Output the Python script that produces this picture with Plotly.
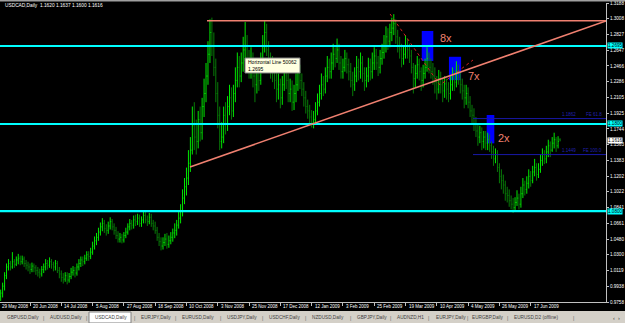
import plotly.graph_objects as go

# ---------------- data ----------------
date_labels = ["29 May 2008", "20 Jun 2008", "14 Jul 2008", "5 Aug 2008", "27 Aug 2008",
               "18 Sep 2008", "10 Oct 2008", "3 Nov 2008", "25 Nov 2008", "17 Dec 2008",
               "12 Jan 2009", "3 Feb 2009", "25 Feb 2009", "19 Mar 2009", "10 Apr 2009",
               "4 May 2009", "26 May 2009", "17 Jun 2009"]
date_label_bars = [0, 16, 32, 48, 64, 80, 96, 112, 128, 144, 160, 176, 192, 208, 224, 240, 256, 272]

price_ticks = [0.9758, 0.9938, 1.0119, 1.0300, 1.0480, 1.0661, 1.0841, 1.1022, 1.1202, 1.1383,
               1.1563, 1.1744, 1.1925, 1.2105, 1.2286, 1.2466, 1.2647, 1.2827, 1.3008, 1.3188]

opens = [
    0.979, 0.982, 0.986, 0.994, 1.006, 1.016, 1.020, 1.016, 1.022, 1.019,
    1.024, 1.026, 1.022, 1.025, 1.020, 1.018, 1.016, 1.013, 1.017, 1.015,
    1.012, 1.010, 1.008, 1.013, 1.016, 1.020, 1.018, 1.022, 1.019, 1.016,
    1.020, 1.012, 1.008, 1.004, 1.002, 1.006, 1.001, 1.005, 1.010, 1.012,
    1.009, 1.016, 1.020, 1.024, 1.022, 1.026, 1.030, 1.028, 1.033, 1.040,
    1.046, 1.050, 1.056, 1.062, 1.066, 1.060, 1.058, 1.063, 1.068, 1.062,
    1.058, 1.052, 1.048, 1.050, 1.047, 1.052, 1.056, 1.062, 1.066, 1.064,
    1.070, 1.068, 1.072, 1.066, 1.070, 1.075, 1.070, 1.068, 1.073, 1.066,
    1.063, 1.058, 1.050, 1.045, 1.040, 1.044, 1.048, 1.042, 1.046, 1.050,
    1.055, 1.058, 1.064, 1.072, 1.080, 1.095, 1.108, 1.118, 1.135, 1.150,
    1.178, 1.165, 1.160, 1.185, 1.170, 1.200, 1.215, 1.235, 1.260, 1.285,
    1.270, 1.245, 1.215, 1.190, 1.160, 1.165, 1.190, 1.180, 1.200, 1.210,
    1.195, 1.215, 1.230, 1.245, 1.235, 1.250, 1.265, 1.270, 1.255, 1.245,
    1.250, 1.235, 1.225, 1.240, 1.230, 1.255, 1.270, 1.285, 1.265, 1.250,
    1.245, 1.240, 1.230, 1.220, 1.225, 1.210, 1.225, 1.240, 1.230, 1.215,
    1.220, 1.205, 1.215, 1.225, 1.240, 1.230, 1.220, 1.210, 1.200, 1.195,
    1.188, 1.182, 1.185, 1.195, 1.205, 1.215, 1.225, 1.220, 1.235, 1.245,
    1.240, 1.250, 1.260, 1.255, 1.265, 1.250, 1.240, 1.245, 1.255, 1.248,
    1.240, 1.230, 1.225, 1.235, 1.245, 1.240, 1.250, 1.238, 1.230, 1.235,
    1.245, 1.240, 1.250, 1.258, 1.250, 1.245, 1.255, 1.262, 1.270, 1.280,
    1.275, 1.285, 1.290, 1.295, 1.280, 1.270, 1.265, 1.255, 1.260, 1.270,
    1.265, 1.258, 1.245, 1.232, 1.238, 1.248, 1.240, 1.230, 1.238, 1.245,
    1.255, 1.245, 1.240, 1.235, 1.228, 1.220, 1.232, 1.225, 1.218, 1.226,
    1.220, 1.215, 1.225, 1.235, 1.228, 1.240, 1.232, 1.225, 1.218, 1.210,
    1.215, 1.205, 1.195, 1.190, 1.180, 1.172, 1.165, 1.170, 1.160, 1.165,
    1.158, 1.162, 1.155, 1.148, 1.140, 1.145, 1.130, 1.120, 1.115, 1.110,
    1.100, 1.098, 1.092, 1.088, 1.084, 1.090, 1.095, 1.088, 1.100, 1.110,
    1.105, 1.112, 1.120, 1.115, 1.125, 1.130, 1.122, 1.128, 1.138, 1.145,
    1.140, 1.148, 1.155, 1.150, 1.158, 1.162, 1.155, 1.1620,
]
highs = [
    0.986, 0.990, 0.998, 1.010, 1.020, 1.025, 1.023, 1.033, 1.025, 1.028,
    1.031, 1.029, 1.029, 1.028, 1.024, 1.022, 1.020, 1.021, 1.020, 1.018,
    1.016, 1.014, 1.017, 1.020, 1.025, 1.024, 1.027, 1.025, 1.022, 1.024,
    1.023, 1.016, 1.012, 1.009, 1.010, 1.010, 1.009, 1.015, 1.017, 1.016,
    1.020, 1.025, 1.028, 1.028, 1.030, 1.034, 1.034, 1.038, 1.045, 1.051,
    1.055, 1.061, 1.067, 1.072, 1.070, 1.065, 1.068, 1.073, 1.071, 1.066,
    1.062, 1.057, 1.055, 1.054, 1.056, 1.061, 1.066, 1.071, 1.070, 1.075,
    1.076, 1.077, 1.076, 1.074, 1.080, 1.079, 1.075, 1.078, 1.077, 1.070,
    1.068, 1.062, 1.055, 1.050, 1.050, 1.054, 1.055, 1.052, 1.056, 1.060,
    1.066, 1.070, 1.079, 1.088, 1.105, 1.118, 1.130, 1.150, 1.165, 1.200,
    1.205, 1.185, 1.195, 1.200, 1.210, 1.232, 1.250, 1.275, 1.300, 1.302,
    1.285, 1.255, 1.228, 1.200, 1.182, 1.200, 1.205, 1.212, 1.225, 1.222,
    1.225, 1.245, 1.262, 1.258, 1.262, 1.280, 1.297, 1.282, 1.265, 1.268,
    1.262, 1.248, 1.252, 1.250, 1.262, 1.282, 1.298, 1.295, 1.275, 1.262,
    1.258, 1.252, 1.242, 1.238, 1.232, 1.235, 1.255, 1.250, 1.238, 1.232,
    1.230, 1.225, 1.238, 1.255, 1.248, 1.238, 1.228, 1.218, 1.208, 1.202,
    1.196, 1.195, 1.205, 1.215, 1.225, 1.238, 1.235, 1.245, 1.258, 1.255,
    1.262, 1.272, 1.268, 1.278, 1.272, 1.258, 1.255, 1.265, 1.262, 1.255,
    1.250, 1.240, 1.245, 1.258, 1.255, 1.262, 1.258, 1.245, 1.245, 1.256,
    1.255, 1.262, 1.268, 1.266, 1.258, 1.265, 1.272, 1.282, 1.292, 1.290,
    1.295, 1.302, 1.306, 1.300, 1.288, 1.280, 1.272, 1.270, 1.282, 1.278,
    1.272, 1.265, 1.250, 1.248, 1.258, 1.255, 1.245, 1.248, 1.255, 1.268,
    1.262, 1.255, 1.250, 1.245, 1.235, 1.242, 1.240, 1.232, 1.235, 1.232,
    1.228, 1.235, 1.245, 1.242, 1.252, 1.248, 1.240, 1.232, 1.225, 1.225,
    1.222, 1.212, 1.202, 1.198, 1.188, 1.180, 1.178, 1.176, 1.172, 1.172,
    1.170, 1.168, 1.160, 1.155, 1.152, 1.150, 1.135, 1.128, 1.122, 1.115,
    1.108, 1.105, 1.098, 1.095, 1.096, 1.104, 1.100, 1.108, 1.118, 1.115,
    1.120, 1.128, 1.126, 1.132, 1.140, 1.135, 1.135, 1.145, 1.152, 1.150,
    1.155, 1.162, 1.160, 1.165, 1.170, 1.165, 1.166, 1.1637,
]
lows = [
    0.976, 0.977, 0.981, 0.989, 1.002, 1.012, 1.012, 1.014, 1.015, 1.017,
    1.019, 1.018, 1.019, 1.016, 1.013, 1.011, 1.008, 1.010, 1.010, 1.007,
    1.005, 1.003, 1.005, 1.009, 1.012, 1.013, 1.015, 1.014, 1.011, 1.012,
    1.009, 1.003, 0.999, 0.997, 0.999, 0.996, 0.998, 1.002, 1.006, 1.004,
    1.006, 1.012, 1.016, 1.017, 1.019, 1.023, 1.023, 1.025, 1.030, 1.036,
    1.041, 1.046, 1.052, 1.057, 1.055, 1.052, 1.054, 1.059, 1.058, 1.053,
    1.048, 1.044, 1.044, 1.043, 1.044, 1.049, 1.053, 1.058, 1.059, 1.060,
    1.063, 1.064, 1.062, 1.062, 1.066, 1.066, 1.063, 1.065, 1.062, 1.058,
    1.054, 1.046, 1.040, 1.035, 1.036, 1.040, 1.037, 1.038, 1.042, 1.045,
    1.049, 1.052, 1.060, 1.066, 1.074, 1.088, 1.098, 1.110, 1.125, 1.145,
    1.150, 1.145, 1.152, 1.160, 1.162, 1.188, 1.205, 1.225, 1.250, 1.258,
    1.235, 1.205, 1.175, 1.150, 1.152, 1.158, 1.168, 1.172, 1.190, 1.185,
    1.188, 1.205, 1.222, 1.222, 1.228, 1.240, 1.252, 1.245, 1.232, 1.232,
    1.222, 1.205, 1.215, 1.218, 1.225, 1.245, 1.262, 1.258, 1.240, 1.232,
    1.228, 1.220, 1.205, 1.208, 1.198, 1.202, 1.218, 1.220, 1.205, 1.205,
    1.195, 1.196, 1.205, 1.218, 1.220, 1.212, 1.200, 1.192, 1.186, 1.180,
    1.176, 1.175, 1.180, 1.190, 1.200, 1.208, 1.212, 1.215, 1.228, 1.232,
    1.232, 1.242, 1.245, 1.250, 1.242, 1.232, 1.232, 1.240, 1.238, 1.230,
    1.222, 1.212, 1.218, 1.228, 1.230, 1.232, 1.228, 1.218, 1.222, 1.228,
    1.230, 1.232, 1.242, 1.242, 1.235, 1.238, 1.248, 1.255, 1.262, 1.265,
    1.268, 1.275, 1.282, 1.272, 1.262, 1.255, 1.245, 1.248, 1.255, 1.255,
    1.250, 1.238, 1.215, 1.222, 1.232, 1.230, 1.218, 1.222, 1.232, 1.240,
    1.238, 1.232, 1.225, 1.215, 1.208, 1.215, 1.215, 1.205, 1.210, 1.208,
    1.205, 1.208, 1.218, 1.218, 1.222, 1.225, 1.215, 1.208, 1.198, 1.202,
    1.198, 1.188, 1.180, 1.172, 1.165, 1.155, 1.158, 1.150, 1.152, 1.150,
    1.150, 1.148, 1.140, 1.132, 1.135, 1.125, 1.112, 1.105, 1.100, 1.092,
    1.090, 1.085, 1.082, 1.078, 1.080, 1.086, 1.082, 1.084, 1.095, 1.098,
    1.100, 1.106, 1.108, 1.112, 1.120, 1.115, 1.118, 1.124, 1.132, 1.134,
    1.135, 1.142, 1.142, 1.148, 1.152, 1.148, 1.152, 1.1600,
]
closes = [
    0.982, 0.986, 0.994, 1.006, 1.016, 1.020, 1.016, 1.022, 1.019, 1.024,
    1.026, 1.022, 1.025, 1.020, 1.018, 1.016, 1.013, 1.017, 1.015, 1.012,
    1.010, 1.008, 1.013, 1.016, 1.020, 1.018, 1.022, 1.019, 1.016, 1.020,
    1.012, 1.008, 1.004, 1.002, 1.006, 1.001, 1.005, 1.010, 1.012, 1.009,
    1.016, 1.020, 1.024, 1.022, 1.026, 1.030, 1.028, 1.033, 1.040, 1.046,
    1.050, 1.056, 1.062, 1.066, 1.060, 1.058, 1.063, 1.068, 1.062, 1.058,
    1.052, 1.048, 1.050, 1.047, 1.052, 1.056, 1.062, 1.066, 1.064, 1.070,
    1.068, 1.072, 1.066, 1.070, 1.075, 1.070, 1.068, 1.073, 1.066, 1.063,
    1.058, 1.050, 1.045, 1.040, 1.044, 1.048, 1.042, 1.046, 1.050, 1.055,
    1.058, 1.064, 1.072, 1.080, 1.095, 1.108, 1.118, 1.135, 1.150, 1.178,
    1.165, 1.160, 1.185, 1.170, 1.200, 1.215, 1.235, 1.260, 1.285, 1.270,
    1.245, 1.215, 1.190, 1.160, 1.165, 1.190, 1.180, 1.200, 1.210, 1.195,
    1.215, 1.230, 1.245, 1.235, 1.250, 1.265, 1.270, 1.255, 1.245, 1.250,
    1.235, 1.225, 1.240, 1.230, 1.255, 1.270, 1.285, 1.265, 1.250, 1.245,
    1.240, 1.230, 1.220, 1.225, 1.210, 1.225, 1.240, 1.230, 1.215, 1.220,
    1.205, 1.215, 1.225, 1.240, 1.230, 1.220, 1.210, 1.200, 1.195, 1.188,
    1.182, 1.185, 1.195, 1.205, 1.215, 1.225, 1.220, 1.235, 1.245, 1.240,
    1.250, 1.260, 1.255, 1.265, 1.250, 1.240, 1.245, 1.255, 1.248, 1.240,
    1.230, 1.225, 1.235, 1.245, 1.240, 1.250, 1.238, 1.230, 1.235, 1.245,
    1.240, 1.250, 1.258, 1.250, 1.245, 1.255, 1.262, 1.270, 1.280, 1.275,
    1.285, 1.290, 1.295, 1.280, 1.270, 1.265, 1.255, 1.260, 1.270, 1.265,
    1.258, 1.245, 1.232, 1.238, 1.248, 1.240, 1.230, 1.238, 1.245, 1.255,
    1.245, 1.240, 1.235, 1.228, 1.220, 1.232, 1.225, 1.218, 1.226, 1.220,
    1.215, 1.225, 1.235, 1.228, 1.240, 1.232, 1.225, 1.218, 1.210, 1.215,
    1.205, 1.195, 1.190, 1.180, 1.172, 1.165, 1.170, 1.160, 1.165, 1.158,
    1.162, 1.155, 1.148, 1.140, 1.145, 1.130, 1.120, 1.115, 1.110, 1.100,
    1.098, 1.092, 1.088, 1.084, 1.090, 1.095, 1.088, 1.100, 1.110, 1.105,
    1.112, 1.120, 1.115, 1.125, 1.130, 1.122, 1.128, 1.138, 1.145, 1.140,
    1.148, 1.155, 1.150, 1.158, 1.162, 1.155, 1.160, 1.1616,
]

h_lines = [1.2695, 1.1800, 1.0800]          # cyan horizontal lines
fe_levels = [1.1862, 1.1449]                # Fibonacci expansion levels
fe_names = ["FE 61.8", "FE 100.0"]
trend_pts = [(97.8, 1.1307), (310.5, 1.2982)]   # rising salmon trendline
top_line = [(106.5, 1.2985), (310.5, 1.2985)]   # flat salmon resistance
fib_path = [(200.1, 1.3062), (225.6, 1.2247), (242.5, 1.2534)]
boxes = [(216.3, 222.2, 1.2523, 1.2867), (230.2, 236.4, 1.2303, 1.2571), (249.5, 253.4, 1.1578, 1.1903)]
box_tags = [("8x", 228.5, 1.2787), ("7x", 243.0, 1.2351), ("2x", 258.5, 1.1640)]
last_price = 1.1616
tabs = ["GBPUSD,Daily", "AUDUSD,Daily", "USDCAD,Daily", "EURJPY,Daily", "EURUSD,Daily",
        "USDJPY,Daily", "USDCHF,Daily", "NZDUSD,Daily", "GBPJPY,Daily", "AUDNZD,H1",
        "EURJPY,Daily", "EURGBP,Daily", "EURUSD,D2 (offline)"]
tab_x = [5, 48, 93, 139, 180, 225, 267, 310, 355, 395, 434, 470, 512]
tab_seps = [43, 86, 134, 175, 220, 262, 305, 350, 390, 428, 467, 507, 573]

# ---------------- figure ----------------
W, H = 625, 323
ML, MR, MT, MB = 0, 19, 3, 21
PW, PH = W - ML - MR, H - MT - MB
X0, X1 = 0.66, 310.5
Y0, Y1 = 0.9758, 1.3188


def px(xp):
    return (xp - ML) / PW


def py(yp):
    return (H - MB - yp) / PH


def bx(b):
    return (b - X0) / (X1 - X0)


FONT = "Liberation Sans, Arial, sans-serif"
SALMON = "#F08070"

fig = go.Figure()

shapes = []
for (xa, xb, ya, yb) in boxes:
    shapes.append(dict(type="rect", xref="x", yref="y", x0=xa, x1=xb, y0=ya, y1=yb,
                       fillcolor="#0000FF", line=dict(width=0), layer="below"))

idx = list(range(len(closes)))
fig.add_trace(go.Ohlc(x=idx, open=opens, high=highs, low=lows, close=closes,
                      increasing=dict(line=dict(color="#00E600", width=1)),
                      decreasing=dict(line=dict(color="#087A08", width=1)),
                      tickwidth=0.35, hoverinfo="skip", showlegend=False))

for v in h_lines:
    shapes.append(dict(type="line", xref="paper", yref="y", x0=0, x1=1, y0=v, y1=v,
                       line=dict(color="#00FFFF", width=2.2)))
for v in fe_levels:
    shapes.append(dict(type="line", xref="x", yref="y", x0=fib_path[-1][0], x1=X1, y0=v, y1=v,
                       line=dict(color="#1818A8", width=1)))
shapes.append(dict(type="line", xref="x", yref="y", x0=trend_pts[0][0], y0=trend_pts[0][1],
                   x1=trend_pts[1][0], y1=trend_pts[1][1], line=dict(color=SALMON, width=1.6)))
shapes.append(dict(type="line", xref="x", yref="y", x0=top_line[0][0], y0=top_line[0][1],
                   x1=top_line[1][0], y1=top_line[1][1], line=dict(color=SALMON, width=1.6)))

fig.add_trace(go.Scatter(x=[p[0] for p in fib_path], y=[p[1] for p in fib_path], mode="lines",
                         line=dict(color="#D02020", width=1, dash="dot"), hoverinfo="skip",
                         showlegend=False))

shapes.append(dict(type="rect", xref="paper", yref="paper", x0=px(0), x1=px(W), y0=py(311), y1=py(H),
                   fillcolor="#D4D0C8", line=dict(width=0)))
shapes.append(dict(type="rect", xref="paper", yref="paper", x0=px(89), x1=px(131), y0=py(312), y1=py(H),
                   fillcolor="#FFFFFF", line=dict(color="#808080", width=1)))
shapes.append(dict(type="rect", xref="paper", yref="paper", x0=px(0), x1=px(W), y0=py(0), y1=py(1.5),
                   fillcolor="#A0A0A0", line=dict(width=0)))
shapes.append(dict(type="rect", xref="paper", yref="paper", x0=px(245), x1=px(300), y0=py(58), y1=py(73),
                   fillcolor="#FFFFE1", line=dict(color="#808080", width=1)))

ann = []
ann.append(dict(text="USDCAD,Daily  1.1620 1.1637 1.1600 1.1616", xref="paper", yref="paper",
                x=px(3), y=py(6), xanchor="left", yanchor="middle", showarrow=False,
                font=dict(family=FONT, size=4.8, color="#FFFFFF")))
ann.append(dict(text="Horizontal Line 50062<br>1.2695", xref="paper", yref="paper",
                x=px(246), y=py(65.5), xanchor="left", yanchor="middle", showarrow=False, align="left",
                font=dict(family=FONT, size=5, color="#000000")))
for t, xi, yi in box_tags:
    ann.append(dict(text=t, x=xi, y=yi, xref="x", yref="y", showarrow=False,
                    font=dict(family=FONT, size=11, color=SALMON)))
for v, nm in zip(fe_levels, fe_names):
    ann.append(dict(text=f"{v:.4f}", x=px(560), y=v, xref="paper", yref="y", xanchor="left",
                    yanchor="bottom", showarrow=False, font=dict(family=FONT, size=4.5, color="#2020B0")))
    ann.append(dict(text=nm, x=px(604), y=v, xref="paper", yref="y", xanchor="right",
                    yanchor="bottom", showarrow=False, font=dict(family=FONT, size=4.5, color="#2020B0")))
for v in h_lines:
    ann.append(dict(text=f"{v:.4f}", x=px(607), y=v, xref="paper", yref="y", xanchor="left",
                    yanchor="middle", showarrow=False, bgcolor="#00FFFF", borderpad=0,
                    font=dict(family=FONT, size=4.6, color="#000000")))
ann.append(dict(text=f"{last_price:.4f}", x=px(607), y=last_price, xref="paper", yref="y",
                xanchor="left", yanchor="middle", showarrow=False, bgcolor="#FFFFFF", borderpad=0,
                font=dict(family=FONT, size=4.6, color="#000000")))
for b, lab in zip(date_label_bars, date_labels):
    ann.append(dict(text=lab, x=bx(b), y=py(306), xref="paper", yref="paper", xanchor="left",
                    yanchor="middle", xshift=1, showarrow=False,
                    font=dict(family=FONT, size=4.5, color="#FFFFFF")))
for t, xp in zip(tabs, tab_x):
    ann.append(dict(text=t, x=px(xp), y=py(317.5), xref="paper", yref="paper", xanchor="left",
                    yanchor="middle", showarrow=False, font=dict(family=FONT, size=4.7, color="#404040")))
for xp in tab_seps:
    ann.append(dict(text="|", x=px(xp), y=py(317.5), xref="paper", yref="paper", xanchor="center",
                    yanchor="middle", showarrow=False, font=dict(family=FONT, size=5, color="#606060")))
ann.append(dict(text="\u2039  \u203a", x=px(611), y=py(317.5), xref="paper", yref="paper", xanchor="left",
                yanchor="middle", showarrow=False, font=dict(family=FONT, size=5.5, color="#404040")))

fig.update_layout(
    width=W, height=H, margin=dict(l=ML, r=MR, t=MT, b=MB, autoexpand=False),
    paper_bgcolor="#000000", plot_bgcolor="#000000", showlegend=False,
    shapes=shapes, annotations=ann,
    xaxis=dict(range=[X0, X1], showgrid=False, zeroline=False, showticklabels=False,
               tickvals=date_label_bars, ticks="outside", ticklen=3, tickcolor="#C0C0C0",
               showline=True, linecolor="#C0C0C0", linewidth=1, rangeslider=dict(visible=False),
               fixedrange=True),
    yaxis=dict(range=[Y0, Y1], side="right", showgrid=False, zeroline=False,
               tickvals=price_ticks, ticktext=[f"{v:.4f}" for v in price_ticks],
               ticks="outside", ticklen=2, tickcolor="#C0C0C0", showline=True, linecolor="#C0C0C0",
               linewidth=1, tickfont=dict(family=FONT, size=4.6, color="#FFFFFF"), fixedrange=True),
)

fig.write_html("out.html")
